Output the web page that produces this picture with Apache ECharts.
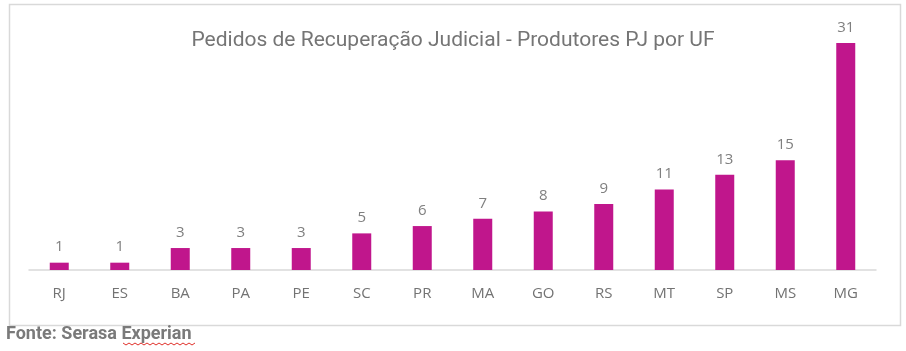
<!DOCTYPE html>
<html><head><meta charset="utf-8">
<script src="https://cdn.jsdelivr.net/npm/echarts@6/dist/echarts.min.js"></script>
<style>html,body{margin:0;padding:0;background:#fff}#c{width:906px;height:351px}</style>
</head><body><div id="c"></div>
<script>
const categories = ['RJ','ES','BA','PA','PE','SC','PR','MA','GO','RS','MT','SP','MS','MG'];
const values = [1,1,3,3,3,5,6,7,8,9,11,13,15,31];
const titleText = 'Pedidos de Recuperação Judicial - Produtores PJ por UF';
const sourceText = 'Fonte: Serasa Experian';

const chart = echarts.init(document.getElementById('c'), null, {renderer:'canvas'});
const squiggle = [];
for (let i = 0; i <= 24; i++) squiggle.push([123 + i*3, 343 + (i%2 ? 2 : 0)]);
chart.setOption({
  animation:false,
  backgroundColor:'#fff',
  title:{text:titleText,left:'center',top:25,textStyle:{fontFamily:'Roboto',fontWeight:'normal',fontSize:21,color:'#757575'}},
  grid:{left:29,right:30,top:43,bottom:81},
  xAxis:{type:'category',data:categories,
    axisLine:{lineStyle:{color:'#d9d9d9',width:1.5}},axisTick:{show:false},
    axisLabel:{color:'#737373',fontFamily:'Open Sans',fontSize:15,margin:16}},
  yAxis:{type:'value',min:0,max:31,show:false,splitLine:{show:false}},
  series:[{type:'bar',data:values,barWidth:19,itemStyle:{color:'#C0168C'},
    label:{show:true,position:'top',distance:8,color:'#7f7f7f',fontFamily:'Open Sans',fontSize:15}}],
  graphic:[
    {type:'rect',left:7,top:2,shape:{width:891,height:321},style:{fill:'none',stroke:'#d9d9d9',lineWidth:1.5},silent:true,z:-1},
    {type:'text',left:6,top:325,style:{text:sourceText,fontFamily:'Roboto',fontWeight:'bold',fontSize:18,fill:'#7a7a7a'}},
    {type:'polyline',shape:{points:squiggle},style:{stroke:'#e0302a',lineWidth:1,fill:'none'}}
  ]
});
</script></body></html>
